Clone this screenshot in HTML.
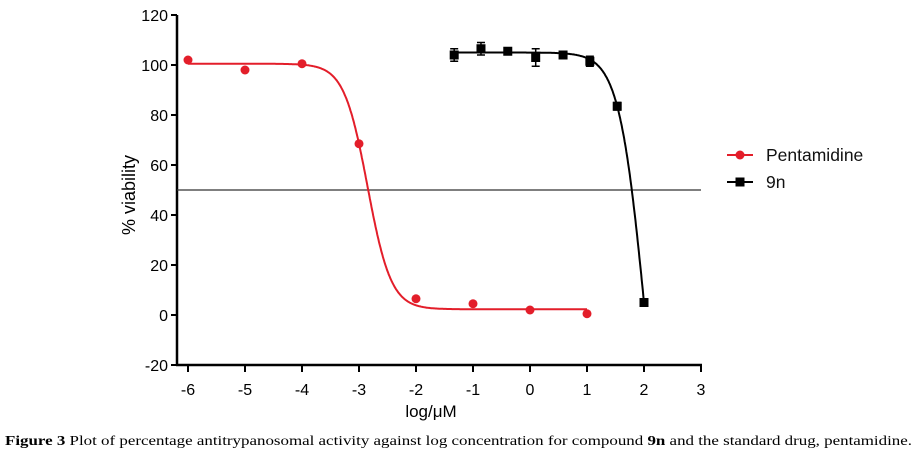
<!DOCTYPE html>
<html><head><meta charset="utf-8"><style>
body{margin:0;background:#fff;width:919px;height:465px;overflow:hidden}
svg{display:block}
text{font-family:"Liberation Sans",sans-serif}
</style></head><body>
<svg width="919" height="465">
<g id="axes"></g><g id="plot"></g>
<g>
 <line x1="727" y1="155" x2="753" y2="155" stroke="#e31e2a" stroke-width="2"/>
 <circle cx="740" cy="155" r="4.5" fill="#e31e2a"/>
 <text x="766" y="161" font-size="17.5" fill="#111">Pentamidine</text>
 <line x1="727" y1="182" x2="753" y2="182" stroke="#000" stroke-width="2"/>
 <rect x="735.5" y="177.5" width="9" height="9" fill="#000"/>
 <text x="766" y="188" font-size="17.5" fill="#111">9n</text>
</g>
<text x="135" y="195" font-size="18" text-anchor="middle" transform="rotate(-90 135 195)">% viability</text>
<text x="431" y="417" font-size="17" text-anchor="middle">log/μM</text>
<text x="5" y="445" font-size="13.6" textLength="907" lengthAdjust="spacingAndGlyphs" style="font-family:'Liberation Serif',serif"><tspan font-weight="bold">Figure 3</tspan>  Plot of percentage antitrypanosomal activity against log concentration for compound <tspan font-weight="bold">9n</tspan> and the standard drug, pentamidine.</text>
</svg>
<script>
const xTicks=[-6,-5,-4,-3,-2,-1,0,1,2,3];
const yTicks=[-20,0,20,40,60,80,100,120];
const pentX=[-6,-5,-4,-3,-2,-1,0,1];
const pentY=[102,98,100.5,68.5,6.5,4.5,2,0.5];
const n9X=[-1.33,-0.86,-0.39,0.1,0.58,1.05,1.53,2.0];
const n9Y=[104,106.5,105.5,103,104,101.5,83.5,5];
const n9Err=[2.5,2.5,1,3.5,1.5,2,1.5,0];
const refLine=[50];
const sx=v=>188+(v+6)*57;
const sy=v=>315-v*2.5;
const NS="http://www.w3.org/2000/svg";
function mk(p,t,a){const e=document.createElementNS(NS,t);for(const k in a)e.setAttribute(k,a[k]);p.appendChild(e);return e;}
const ax=document.getElementById('axes'),pl=document.getElementById('plot');
let e=mk(ax,'line',{x1:177,y1:sy(120),x2:177,y2:sy(-20)+1,stroke:'#000','stroke-width':2.5});


e=mk(ax,'line',{x1:176,y1:sy(-20),x2:sx(3)+1,y2:sy(-20),stroke:'#000','stroke-width':2.5});


yTicks.forEach(v=>{mk(ax,'line',{x1:171,y1:sy(v),x2:177,y2:sy(v),stroke:'#000','stroke-width':2});
 e=mk(ax,'text',{x:168,y:sy(v)+6,'font-size':16,'text-anchor':'end'});e.textContent=v;
 
 });
xTicks.forEach(v=>{mk(ax,'line',{x1:sx(v),y1:sy(-20),x2:sx(v),y2:sy(-20)+7,stroke:'#000','stroke-width':2});
 e=mk(ax,'text',{x:sx(v),y:sy(-20)+30,'font-size':16,'text-anchor':'middle'});e.textContent=v;
 
 });
e=mk(pl,'line',{x1:177,y1:sy(refLine[0]),x2:sx(3),y2:sy(refLine[0]),stroke:'#333','stroke-width':1.2});


function curve(f,a,b){let d='';for(let x=a;x<=b+1e-9;x+=0.01)d+=(d?'L':'M')+sx(x).toFixed(1)+','+sy(f(x)).toFixed(1);return d;}
const fp=x=>2.3+98.2/(1+Math.pow(10,(x+2.85)*2.1));
const fn=x=>-100+205/(1+Math.pow(10,(x-2.011)*1.934));
e=mk(pl,'path',{d:curve(fp,-6,1),fill:'none',stroke:'#e31e2a','stroke-width':2});


e=mk(pl,'path',{d:curve(fn,-1.33,2),fill:'none',stroke:'#000','stroke-width':2});


pentX.forEach((x,i)=>{e=mk(pl,'circle',{cx:sx(x),cy:sy(pentY[i]),r:4.5,fill:'#e31e2a'});
 
 });
n9X.forEach((x,i)=>{const cx=sx(x),cy=sy(n9Y[i]),er=n9Err[i]*2.5;
 if(er>0){mk(pl,'path',{d:`M${cx},${cy-er}V${cy+er}M${cx-4},${cy-er}H${cx+4}M${cx-4},${cy+er}H${cx+4}`,stroke:'#000','stroke-width':1.5,fill:'none'});}
 e=mk(pl,'rect',{x:cx-4.5,y:cy-4.5,width:9,height:9,fill:'#000'});
 
 });
</script>
</body></html>
